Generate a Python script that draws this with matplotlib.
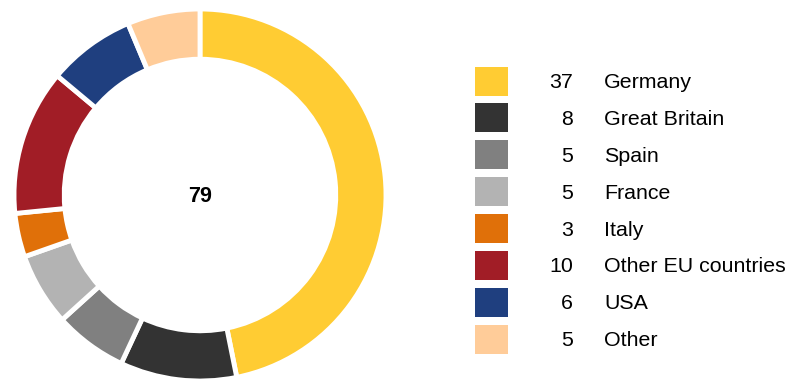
import matplotlib
matplotlib.use("Agg")
import matplotlib.pyplot as plt
from matplotlib.patches import Rectangle

plt.rcParams['font.family'] = ['Liberation Sans', 'DejaVu Sans']

countries = ["Germany", "Great Britain", "Spain", "France", "Italy",
             "Other EU countries", "USA", "Other"]
values = [37, 8, 5, 5, 3, 10, 6, 5]
colors = ["#FFCC33", "#333333", "#808080", "#B3B3B3", "#E07009",
          "#A11D26", "#1F3F7F", "#FFCC99"]
total = 79

W, H = 790, 383
fig = plt.figure(figsize=(W / 100, H / 100), dpi=100)

# donut
cx, cy, R = 200, 195, 186
ax = fig.add_axes([(cx - R) / W, (H - cy - R) / H, 2 * R / W, 2 * R / H])
ax.pie(values, colors=colors, startangle=90, counterclock=False,
       radius=1, wedgeprops=dict(width=0.27, edgecolor="white", linewidth=3.5))
ax.set_xlim(-1, 1)
ax.set_ylim(-1, 1)
ax.set_aspect("equal")
ax.text(0, -0.01, str(total), ha="center", va="center", fontsize=15.5, fontweight="bold")

# legend
lg = fig.add_axes([0, 0, 1, 1])
lg.set_xlim(0, W)
lg.set_ylim(H, 0)
lg.axis("off")
y0, step = 81, 36.9
for i, (name, v, c) in enumerate(zip(countries, values, colors)):
    y = y0 + i * step
    lg.add_patch(Rectangle((475, y - 14.5), 33, 29, color=c, lw=0))
    lg.text(573, y + 1.5, str(v), ha="right", va="center", fontsize=15.4)
    lg.text(604, y + 1.5, name, ha="left", va="center", fontsize=15.4)

fig.savefig("out.png", dpi=100)
